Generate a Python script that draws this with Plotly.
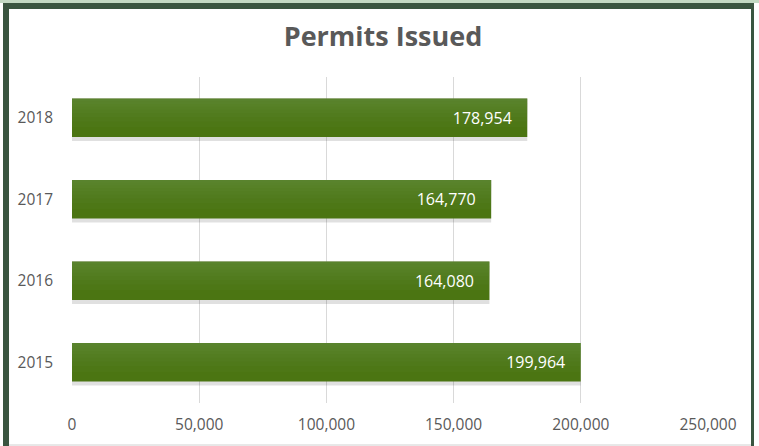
import plotly.graph_objects as go

years = ["2015", "2016", "2017", "2018"]
permits = [199964, 164080, 164770, 178954]
x_ticks = [0, 50000, 100000, 150000, 200000, 250000]
x_tick_labels = ["0", "50,000", "100,000", "150,000", "200,000", "250,000"]

W, H = 759, 446
L, R, T, B = 72, 51, 77, 43
pw, ph = W - L - R, H - T - B

def px_x(p):
    return (p - L) / pw

def px_y(p):
    return (H - B - p) / ph

bw = 0.47
fig = go.Figure()

# shadow
fig.add_trace(go.Bar(
    y=years, x=permits, orientation="h", width=bw, offset=-bw / 2 - 0.05,
    marker=dict(color="rgba(0,0,0,0.12)", line=dict(width=0)),
    hoverinfo="skip", showlegend=False,
))
# main bar
fig.add_trace(go.Bar(
    y=years, x=permits, orientation="h", width=bw, offset=-bw / 2,
    marker=dict(color="#4b7512", line=dict(width=0)),
    showlegend=False, hoverinfo="skip",
))
# gradient bands (lighter toward top)
for frac in [0.75, 0.6, 0.48, 0.38, 0.29, 0.21, 0.14, 0.07]:
    fig.add_trace(go.Bar(
        y=years, x=permits, orientation="h", width=bw * frac, offset=bw / 2 - bw * frac,
        marker=dict(color="rgba(120,160,90,0.07)", line=dict(width=0)),
        showlegend=False, hoverinfo="skip",
    ))
# labels
fig.add_trace(go.Bar(
    y=years, x=permits, orientation="h", width=bw, offset=-bw / 2,
    marker=dict(color="rgba(0,0,0,0)", line=dict(width=0)),
    text=[f"{v:,}\u00a0\u00a0\u00a0" for v in permits],
    textposition="inside", insidetextanchor="end",
    textfont=dict(color="white", size=16, family="Open Sans"),
    showlegend=False, hoverinfo="skip",
))

shapes = [
    dict(type="rect", xref="paper", yref="paper", x0=px_x(0), x1=px_x(W), y0=px_y(3), y1=px_y(0),
         fillcolor="#c3d9c3", line=dict(width=0), layer="above"),
    dict(type="rect", xref="paper", yref="paper", x0=px_x(3), x1=px_x(754), y0=px_y(9), y1=px_y(3),
         fillcolor="#3a5540", line=dict(width=0), layer="above"),
    dict(type="rect", xref="paper", yref="paper", x0=px_x(3), x1=px_x(9), y0=px_y(446), y1=px_y(3),
         fillcolor="#3a5540", line=dict(width=0), layer="above"),
    dict(type="rect", xref="paper", yref="paper", x0=px_x(751), x1=px_x(754), y0=px_y(446), y1=px_y(3),
         fillcolor="#3a5540", line=dict(width=0), layer="above"),
    dict(type="line", xref="paper", yref="paper", x0=px_x(9), x1=px_x(751), y0=px_y(445), y1=px_y(445),
         line=dict(color="#d0d0d0", width=1), layer="above"),
]

fig.update_layout(
    width=W, height=H,
    margin=dict(l=L, r=R, t=T, b=B),
    barmode="overlay",
    paper_bgcolor="white", plot_bgcolor="white",
    title=dict(text="<b>Permits Issued</b>", x=px_x(383), xref="paper", y=1 - 37 / H, yanchor="middle",
               font=dict(family="Open Sans", size=27, color="#595959")),
    font=dict(family="Open Sans", color="#595959", size=15),
    shapes=shapes,
)
fig.update_xaxes(
    range=[0, 250000], tickvals=x_ticks, ticktext=x_tick_labels,
    showgrid=True, gridcolor="#d9d9d9", gridwidth=1, zeroline=False,
    showline=False, ticks="", ticklabelstandoff=10,
    tickfont=dict(size=15.5, color="#595959"), fixedrange=True,
)
fig.update_yaxes(
    categoryorder="array", categoryarray=years,
    showgrid=False, zeroline=False, showline=False, ticks="",
    ticklabelstandoff=18, tickfont=dict(size=15.5, color="#595959"), fixedrange=True,
)

fig.write_html(
    "out.html",
    config={"displayModeBar": False, "staticPlot": True},
    post_script="document.body.style.margin='0';document.body.style.padding='0';",
)
